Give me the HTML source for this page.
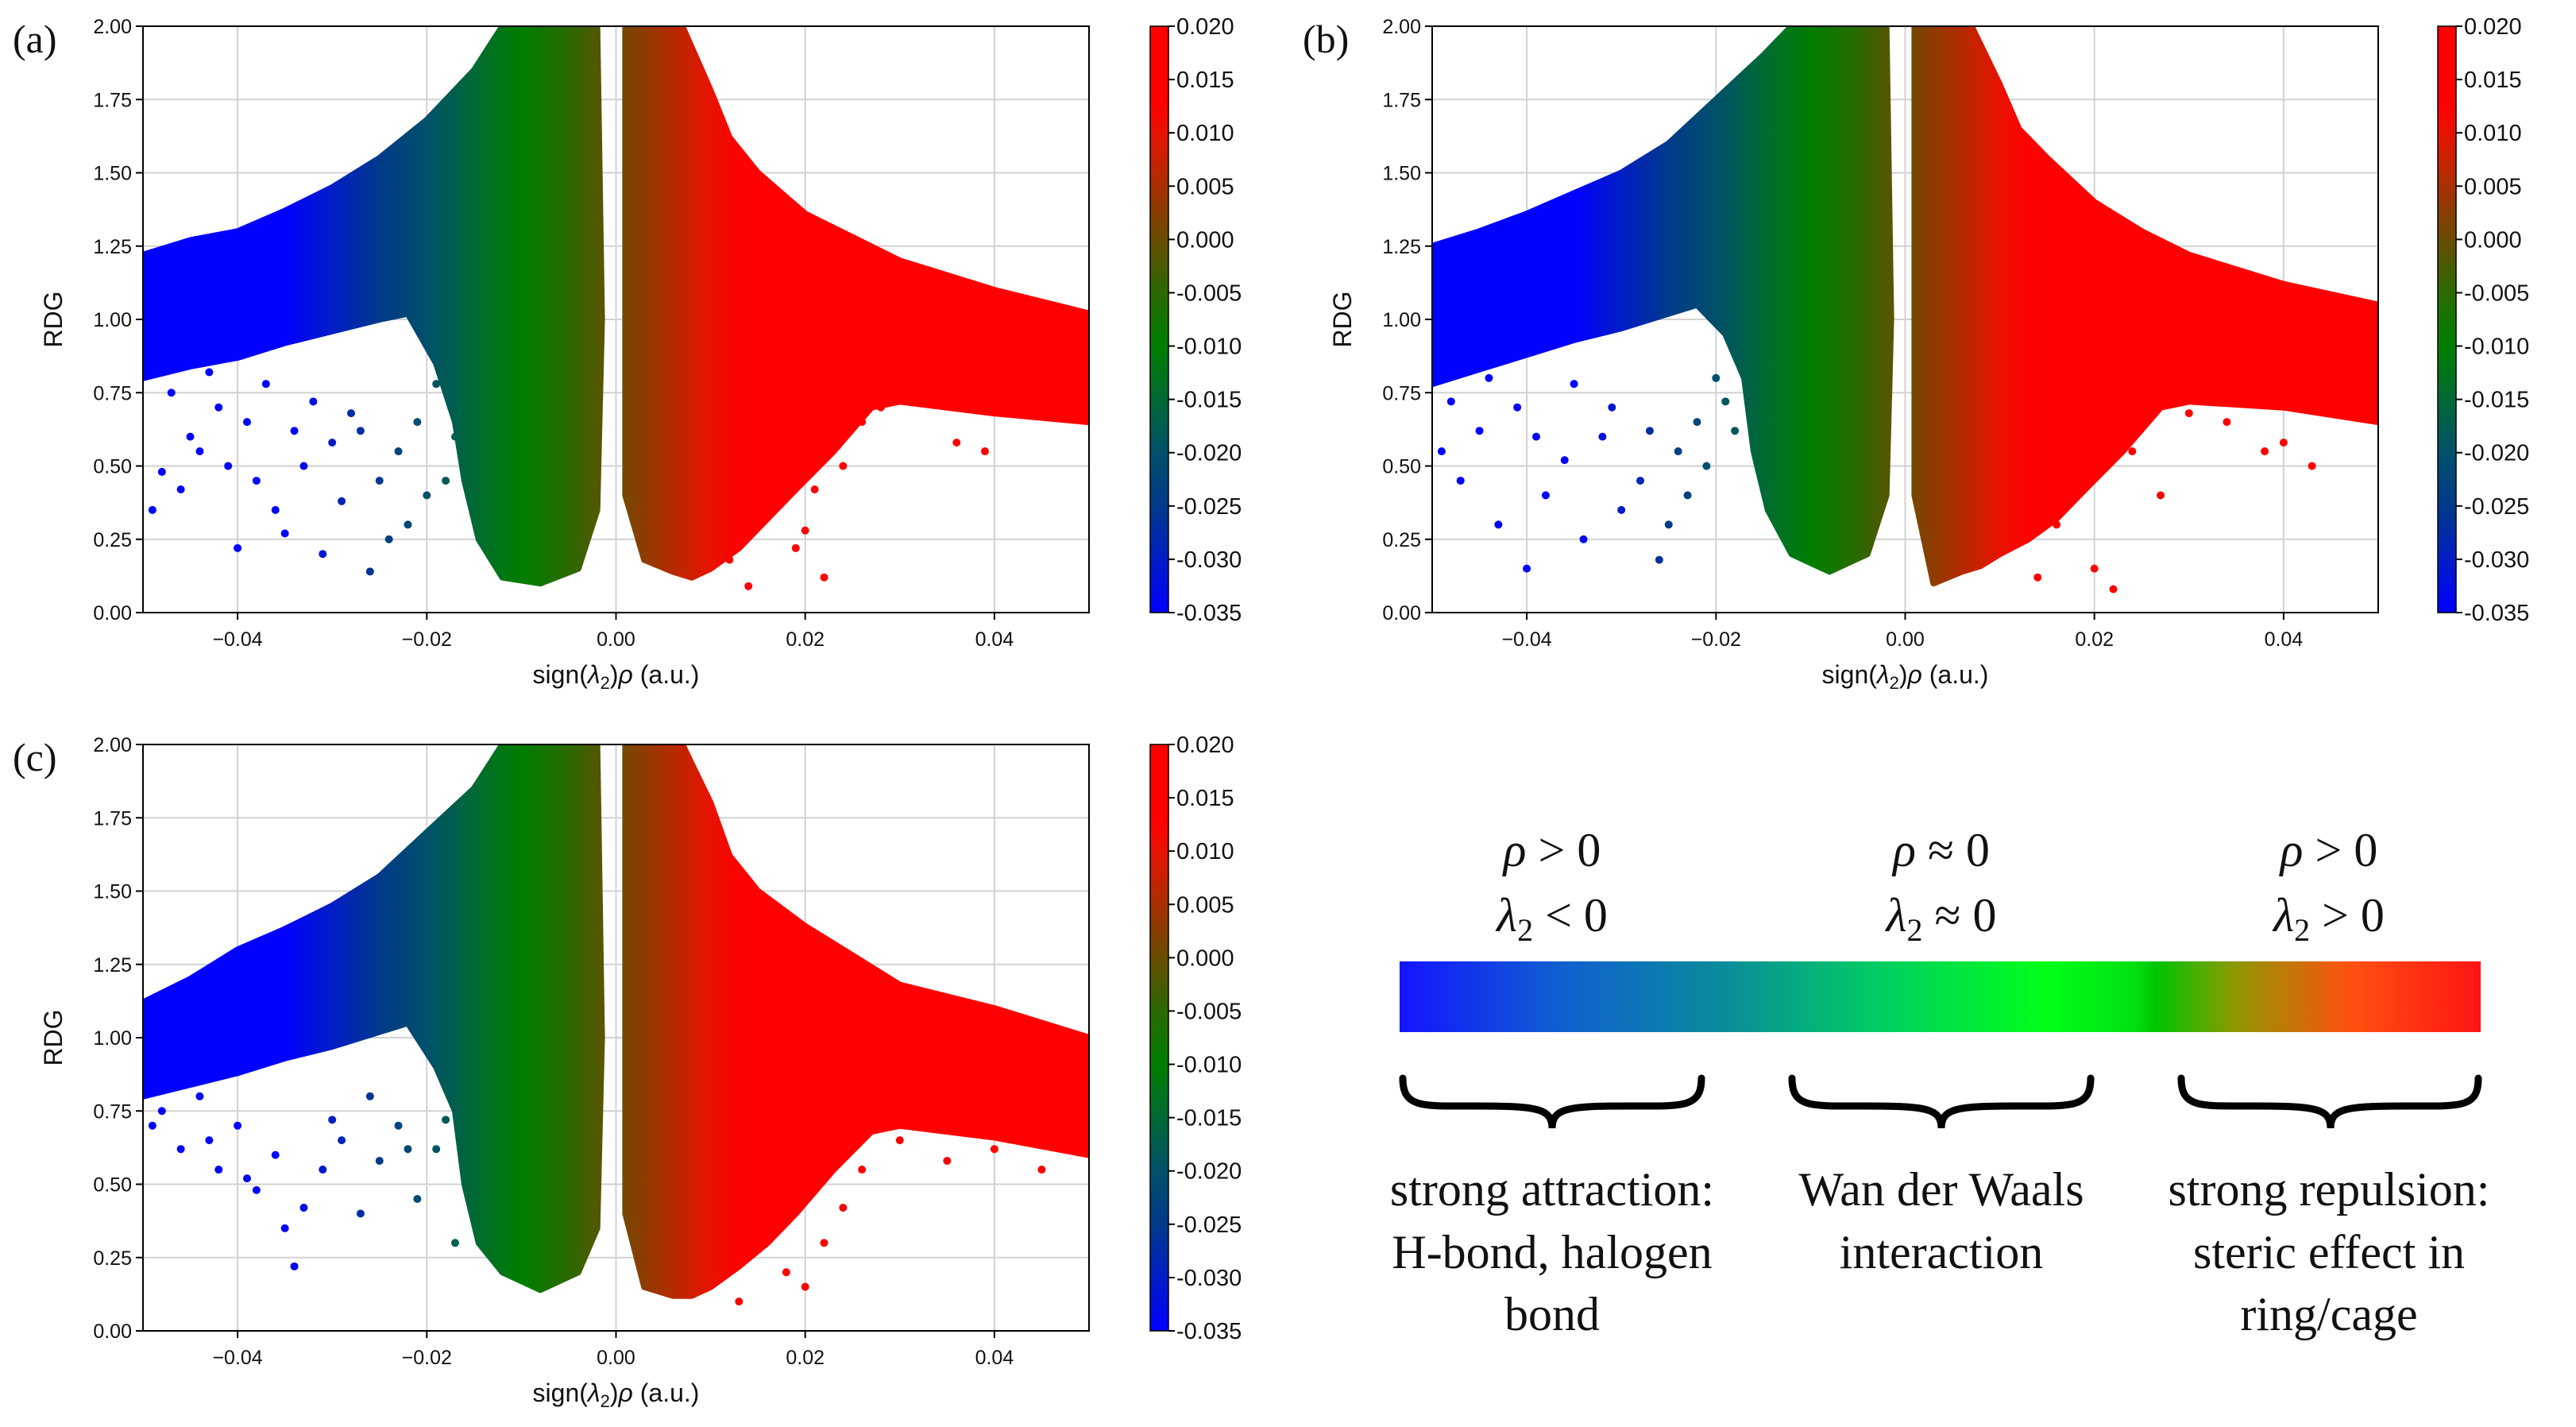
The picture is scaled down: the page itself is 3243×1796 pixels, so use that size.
<!DOCTYPE html>
<html><head><meta charset="utf-8"><style>
html,body{margin:0;padding:0;background:#fff;}
svg{display:block;}
text{font-family:"Liberation Sans","DejaVu Sans",sans-serif;}
text.serif,.serif text{font-family:"Liberation Serif",serif;}
</style></head><body>
<svg id="fig" width="3243" height="1796" viewBox="0 0 3243 1796" xmlns="http://www.w3.org/2000/svg">
<defs>
<linearGradient id="legendGrad" x1="0" x2="1" y1="0" y2="0">
<stop offset="0" stop-color="#1414ff"/><stop offset="0.15" stop-color="#1060d0"/><stop offset="0.3" stop-color="#0a8c9a"/><stop offset="0.45" stop-color="#00d060"/><stop offset="0.6" stop-color="#00ff18"/><stop offset="0.68" stop-color="#00e010"/><stop offset="0.7" stop-color="#00c400"/><stop offset="0.77" stop-color="#8a9a00"/><stop offset="0.88" stop-color="#ff5010"/><stop offset="1" stop-color="#ff1414"/>
</linearGradient>
</defs>
<g id="legend">
<rect x="1762" y="1210" width="1361" height="89" fill="url(#legendGrad)"/>
<g class="serif" font-size="60" text-anchor="middle" fill="#111">
<text class="serif" x="1954" y="1090"><tspan font-style="italic">ρ</tspan> &gt; 0</text>
<text class="serif" x="1954" y="1172"><tspan font-style="italic">λ</tspan><tspan font-size="40" dy="12">2</tspan><tspan dy="-12"> &lt; 0</tspan></text>
<text class="serif" x="2444" y="1090"><tspan font-style="italic">ρ</tspan> ≈ 0</text>
<text class="serif" x="2444" y="1172"><tspan font-style="italic">λ</tspan><tspan font-size="40" dy="12">2</tspan><tspan dy="-12"> ≈ 0</tspan></text>
<text class="serif" x="2932" y="1090"><tspan font-style="italic">ρ</tspan> &gt; 0</text>
<text class="serif" x="2932" y="1172"><tspan font-style="italic">λ</tspan><tspan font-size="40" dy="12">2</tspan><tspan dy="-12"> &gt; 0</tspan></text>
<text class="serif" x="1954" y="1517">strong attraction:</text>
<text class="serif" x="1954" y="1596">H-bond, halogen</text>
<text class="serif" x="1954" y="1674">bond</text>
<text class="serif" x="2444" y="1517">Wan der Waals</text>
<text class="serif" x="2444" y="1596">interaction</text>
<text class="serif" x="2932" y="1517">strong repulsion:</text>
<text class="serif" x="2932" y="1596">steric effect in</text>
<text class="serif" x="2932" y="1674">ring/cage</text>
</g>
<g fill="none" stroke="#000" stroke-width="9" stroke-linecap="round">
<path d="M1766,1357 C1766,1395 1790,1392 1860,1392 C1935,1392 1954,1395 1954,1420 C1954,1395 1973,1392 2048,1392 C2118,1392 2142,1395 2142,1357"/>
<path d="M2256,1357 C2256,1395 2280,1392 2350,1392 C2425,1392 2444,1395 2444,1420 C2444,1395 2463,1392 2538,1392 C2608,1392 2632,1395 2632,1357"/>
<path d="M2746,1357 C2746,1395 2770,1392 2840,1392 C2915,1392 2934,1395 2934,1420 C2934,1395 2953,1392 3028,1392 C3098,1392 3120,1395 3120,1357"/>
</g>
</g>
</svg>
<script>
// ---- data ----
const xTicks = [-0.04, -0.02, 0.00, 0.02, 0.04];
const xTickLabels = ["\u22120.04", "\u22120.02", "0.00", "0.02", "0.04"];
const yTicks = [0, 0.25, 0.5, 0.75, 1.0, 1.25, 1.5, 1.75, 2.0];
const yTickLabels = ["0.00","0.25","0.50","0.75","1.00","1.25","1.50","1.75","2.00"];
const cbTicks = [0.020,0.015,0.010,0.005,0.000,-0.005,-0.010,-0.015,-0.020,-0.025,-0.030,-0.035];
const cbTickLabels = ["0.020","0.015","0.010","0.005","0.000","-0.005","-0.010","-0.015","-0.020","-0.025","-0.030","-0.035"];
const cmapValues = [-0.035, -0.025, -0.020, -0.015, -0.010, -0.005, 0.000, 0.005, 0.010, 0.013, 0.020];
const cmapColors = ["#0000ff","#003a8a","#00506a","#006a34","#007e00","#2a6a00","#6a4c00","#a83000","#e81200","#ff0000","#ff0000"];

const panelLabels = ["(a)", "(b)", "(c)"];

// left (attractive) dense region boundaries
const leftX_a = [-0.05,-0.05,-0.045,-0.04,-0.035,-0.03,-0.025,-0.02,-0.015,-0.012,-0.002,-0.0015,-0.002,-0.004,-0.008,-0.012,-0.0145,-0.016,-0.017,-0.019,-0.022,-0.025,-0.03,-0.035,-0.04,-0.045];
const leftY_a = [0.80,1.22,1.27,1.30,1.37,1.45,1.55,1.68,1.85,2.00,2.00,1.00,0.35,0.15,0.10,0.12,0.25,0.45,0.65,0.85,1.02,1.00,0.96,0.92,0.87,0.84];
const leftX_b = [-0.05,-0.05,-0.045,-0.04,-0.035,-0.03,-0.025,-0.02,-0.015,-0.012,-0.002,-0.0015,-0.002,-0.004,-0.008,-0.012,-0.0145,-0.016,-0.017,-0.019,-0.022,-0.025,-0.03,-0.035,-0.04,-0.045];
const leftY_b = [0.78,1.25,1.30,1.36,1.43,1.50,1.60,1.75,1.90,2.00,2.00,1.00,0.40,0.20,0.14,0.20,0.35,0.55,0.80,0.95,1.05,1.02,0.97,0.93,0.88,0.83];
const leftX_c = [-0.05,-0.05,-0.045,-0.04,-0.035,-0.03,-0.025,-0.02,-0.015,-0.012,-0.002,-0.0015,-0.002,-0.004,-0.008,-0.012,-0.0145,-0.016,-0.017,-0.019,-0.022,-0.025,-0.03,-0.035,-0.04,-0.045];
const leftY_c = [0.80,1.12,1.20,1.30,1.37,1.45,1.55,1.70,1.85,2.00,2.00,1.00,0.35,0.20,0.14,0.20,0.30,0.50,0.75,0.90,1.05,1.02,0.97,0.93,0.88,0.84];

// right (repulsive) dense region boundaries
const rightX_a = [0.001,0.007,0.010,0.012,0.015,0.020,0.025,0.030,0.040,0.050,0.050,0.040,0.030,0.027,0.023,0.019,0.016,0.013,0.010,0.008,0.006,0.003,0.001];
const rightY_a = [2.00,2.00,1.78,1.62,1.50,1.36,1.28,1.20,1.10,1.02,0.65,0.68,0.72,0.70,0.55,0.42,0.32,0.22,0.15,0.12,0.14,0.18,0.40];
const rightX_b = [0.001,0.007,0.010,0.012,0.015,0.020,0.025,0.030,0.040,0.050,0.050,0.040,0.030,0.027,0.023,0.019,0.016,0.013,0.010,0.008,0.006,0.003,0.001];
const rightY_b = [2.00,2.00,1.80,1.65,1.55,1.40,1.30,1.22,1.12,1.05,0.65,0.70,0.72,0.70,0.55,0.42,0.32,0.25,0.20,0.16,0.14,0.10,0.40];
const rightX_c = [0.001,0.007,0.010,0.012,0.015,0.020,0.025,0.030,0.040,0.050,0.050,0.040,0.030,0.027,0.023,0.019,0.016,0.013,0.010,0.008,0.006,0.003,0.001];
const rightY_c = [2.00,2.00,1.80,1.62,1.50,1.38,1.28,1.18,1.10,1.00,0.60,0.66,0.70,0.68,0.55,0.40,0.30,0.22,0.15,0.12,0.12,0.15,0.40];

// sparse scattered points
const dotsX_a = [-0.049,-0.048,-0.047,-0.046,-0.045,-0.044,-0.043,-0.042,-0.041,-0.040,-0.039,-0.038,-0.037,-0.036,-0.035,-0.034,-0.033,-0.032,-0.031,-0.030,-0.029,-0.028,-0.027,-0.026,-0.025,-0.024,-0.023,-0.022,-0.021,-0.020,-0.019,-0.018,-0.017,0.016,0.017,0.018,0.019,0.020,0.021,0.022,0.024,0.026,0.028,0.036,0.039,0.014,0.012];
const dotsY_a = [0.35,0.48,0.75,0.42,0.60,0.55,0.82,0.70,0.50,0.22,0.65,0.45,0.78,0.35,0.27,0.62,0.50,0.72,0.20,0.58,0.38,0.68,0.62,0.14,0.45,0.25,0.55,0.30,0.65,0.40,0.78,0.45,0.60,0.35,0.55,0.62,0.22,0.28,0.42,0.12,0.50,0.65,0.70,0.58,0.55,0.09,0.18];
const dotsX_b = [-0.049,-0.048,-0.047,-0.045,-0.044,-0.043,-0.041,-0.040,-0.039,-0.038,-0.036,-0.035,-0.034,-0.032,-0.031,-0.030,-0.028,-0.027,-0.026,-0.025,-0.024,-0.023,-0.022,-0.021,-0.020,-0.019,-0.018,0.016,0.017,0.018,0.020,0.021,0.022,0.024,0.027,0.030,0.034,0.038,0.040,0.043,0.014];
const dotsY_b = [0.55,0.72,0.45,0.62,0.80,0.30,0.70,0.15,0.60,0.40,0.52,0.78,0.25,0.60,0.70,0.35,0.45,0.62,0.18,0.30,0.55,0.40,0.65,0.50,0.80,0.72,0.62,0.30,0.55,0.42,0.15,0.62,0.08,0.55,0.40,0.68,0.65,0.55,0.58,0.50,0.12];
const dotsX_c = [-0.049,-0.048,-0.046,-0.044,-0.043,-0.042,-0.040,-0.039,-0.038,-0.036,-0.035,-0.034,-0.033,-0.031,-0.030,-0.029,-0.027,-0.026,-0.025,-0.023,-0.022,-0.021,-0.019,-0.018,-0.017,0.016,0.018,0.020,0.022,0.024,0.026,0.030,0.035,0.040,0.045,0.013];
const dotsY_c = [0.70,0.75,0.62,0.80,0.65,0.55,0.70,0.52,0.48,0.60,0.35,0.22,0.42,0.55,0.72,0.65,0.40,0.80,0.58,0.70,0.62,0.45,0.62,0.72,0.30,0.35,0.20,0.15,0.30,0.42,0.55,0.65,0.58,0.62,0.55,0.10];

// ---- layout ----
const panels = [
  {ox:180, oy:33, cbx:1448, lx:16, ly:52, left:[leftX_a,leftY_a], right:[rightX_a,rightY_a], dots:[dotsX_a,dotsY_a]},
  {ox:1803, oy:33, cbx:3069, lx:1640, ly:52, left:[leftX_b,leftY_b], right:[rightX_b,rightY_b], dots:[dotsX_b,dotsY_b]},
  {ox:180, oy:937, cbx:1448, lx:16, ly:956, left:[leftX_c,leftY_c], right:[rightX_c,rightY_c], dots:[dotsX_c,dotsY_c]}
];
const PW = 1191, PH = 738, CBW = 23;
const NS = "http://www.w3.org/2000/svg";
const svg = document.getElementById('fig');
function mk(tag, attrs, parent){ const e=document.createElementNS(NS,tag); for(const k in attrs) e.setAttribute(k,attrs[k]); parent.appendChild(e); return e; }

function hex2rgb(h){ return [parseInt(h.substr(1,2),16),parseInt(h.substr(3,2),16),parseInt(h.substr(5,2),16)]; }
function cmap(v){
  if (v<=cmapValues[0]) return cmapColors[0];
  for(let i=1;i<cmapValues.length;i++){
    if(v<=cmapValues[i]){
      const t=(v-cmapValues[i-1])/(cmapValues[i]-cmapValues[i-1]);
      const a=hex2rgb(cmapColors[i-1]), b=hex2rgb(cmapColors[i]);
      return `rgb(${Math.round(a[0]+(b[0]-a[0])*t)},${Math.round(a[1]+(b[1]-a[1])*t)},${Math.round(a[2]+(b[2]-a[2])*t)})`;
    }
  }
  return cmapColors[cmapColors.length-1];
}

const defs = svg.querySelector('defs');
panels.forEach((p, pi) => {
  const xs = v => p.ox + (v + 0.05) / 0.1 * PW;
  const ys = v => p.oy + PH - v / 2 * PH;
  const g = mk('g', {}, svg);
  
  

  const gid = 'scGrad' + pi;
  const lg = mk('linearGradient', {id:gid, gradientUnits:'userSpaceOnUse', x1:xs(-0.05), x2:xs(0.05), y1:0, y2:0}, defs);
  for (let k=0;k<=40;k++){ const v=-0.05+k*0.0025; mk('stop',{offset:k/40,'stop-color':cmap(v)},lg); }

  yTicks.forEach(t => { const l=mk('line',{x1:p.ox,x2:p.ox+PW,y1:ys(t),y2:ys(t),stroke:'#d2d2d2','stroke-width':2},g);
      });
  xTicks.forEach(t => { const l=mk('line',{x1:xs(t),x2:xs(t),y1:p.oy,y2:p.oy+PH,stroke:'#d2d2d2','stroke-width':2},g);
      });

  const cid='clip'+pi;
  const cp=mk('clipPath',{id:cid},defs); mk('rect',{x:p.ox,y:p.oy,width:PW,height:PH},cp);
  const sg = mk('g',{'clip-path':`url(#${cid})`},g);
   

  [p.left, p.right].forEach((reg, ri) => {
    const pts = reg[0].map((x,i)=>xs(x).toFixed(1)+','+ys(reg[1][i]).toFixed(1)).join(' ');
    const poly = mk('polygon',{points:pts, fill:`url(#${gid})`, stroke:`url(#${gid})`, 'stroke-width':8, 'stroke-linejoin':'round'}, sg);
    
    
  });
  p.dots[0].forEach((x,i)=>{
    const c = mk('circle',{cx:xs(x),cy:ys(p.dots[1][i]),r:5,fill:cmap(x)},sg);
     
  });

  const fr = mk('rect',{x:p.ox,y:p.oy,width:PW,height:PH,fill:'none',stroke:'#000','stroke-width':2},g);
   

  yTicks.forEach((t,i)=>{
    mk('line',{x1:p.ox-9,x2:p.ox,y1:ys(t),y2:ys(t),stroke:'#000','stroke-width':2},g);
    const tx = mk('text',{x:p.ox-14,y:ys(t)+9,'text-anchor':'end','font-size':25,fill:'#111'},g);
    tx.textContent = yTickLabels[i];
     
  });
  xTicks.forEach((t,i)=>{
    mk('line',{x1:xs(t),x2:xs(t),y1:p.oy+PH,y2:p.oy+PH+9,stroke:'#000','stroke-width':2},g);
    const tx = mk('text',{x:xs(t),y:p.oy+PH+42,'text-anchor':'middle','font-size':25,fill:'#111'},g);
    tx.textContent = xTickLabels[i];
     
  });
  const xl = mk('text',{x:p.ox+PW/2,y:p.oy+PH+89,'text-anchor':'middle','font-size':32,fill:'#111'},g);
  xl.innerHTML = 'sign(<tspan font-style="italic">λ</tspan><tspan font-size="22" dy="7">2</tspan><tspan dy="-7">)</tspan><tspan font-style="italic">ρ</tspan> (a.u.)';
   
  const yl = mk('text',{x:0,y:0,'text-anchor':'middle','font-size':32,fill:'#111',transform:`translate(${p.ox-102},${p.oy+PH/2}) rotate(-90)`},g);
  yl.textContent='RDG';
   
  const pl = mk('text',{x:p.lx,y:p.ly+14,'font-size':50,fill:'#111','class':'serif'},g);
  pl.textContent = panelLabels[pi];
   

  const cbG = mk('linearGradient',{id:'cb'+pi,x1:0,x2:0,y1:1,y2:0},defs);
  for(let k=0;k<=40;k++){ const v=-0.035+k*0.055/40; mk('stop',{offset:k/40,'stop-color':cmap(v)},cbG); }
  const cb = mk('rect',{x:p.cbx,y:p.oy,width:CBW,height:PH,fill:`url(#cb${pi})`,stroke:'#000','stroke-width':1.5},g);
   
  const cy = v => p.oy + PH - (v + 0.035)/0.055*PH;
  cbTicks.forEach((t,i)=>{
    mk('line',{x1:p.cbx+CBW,x2:p.cbx+CBW+8,y1:cy(t),y2:cy(t),stroke:'#000','stroke-width':2},g);
    const tx=mk('text',{x:p.cbx+CBW+10,y:cy(t)+10,'font-size':29,fill:'#111'},g);
    tx.textContent=cbTickLabels[i];
     
  });
});
</script>
</body></html>
